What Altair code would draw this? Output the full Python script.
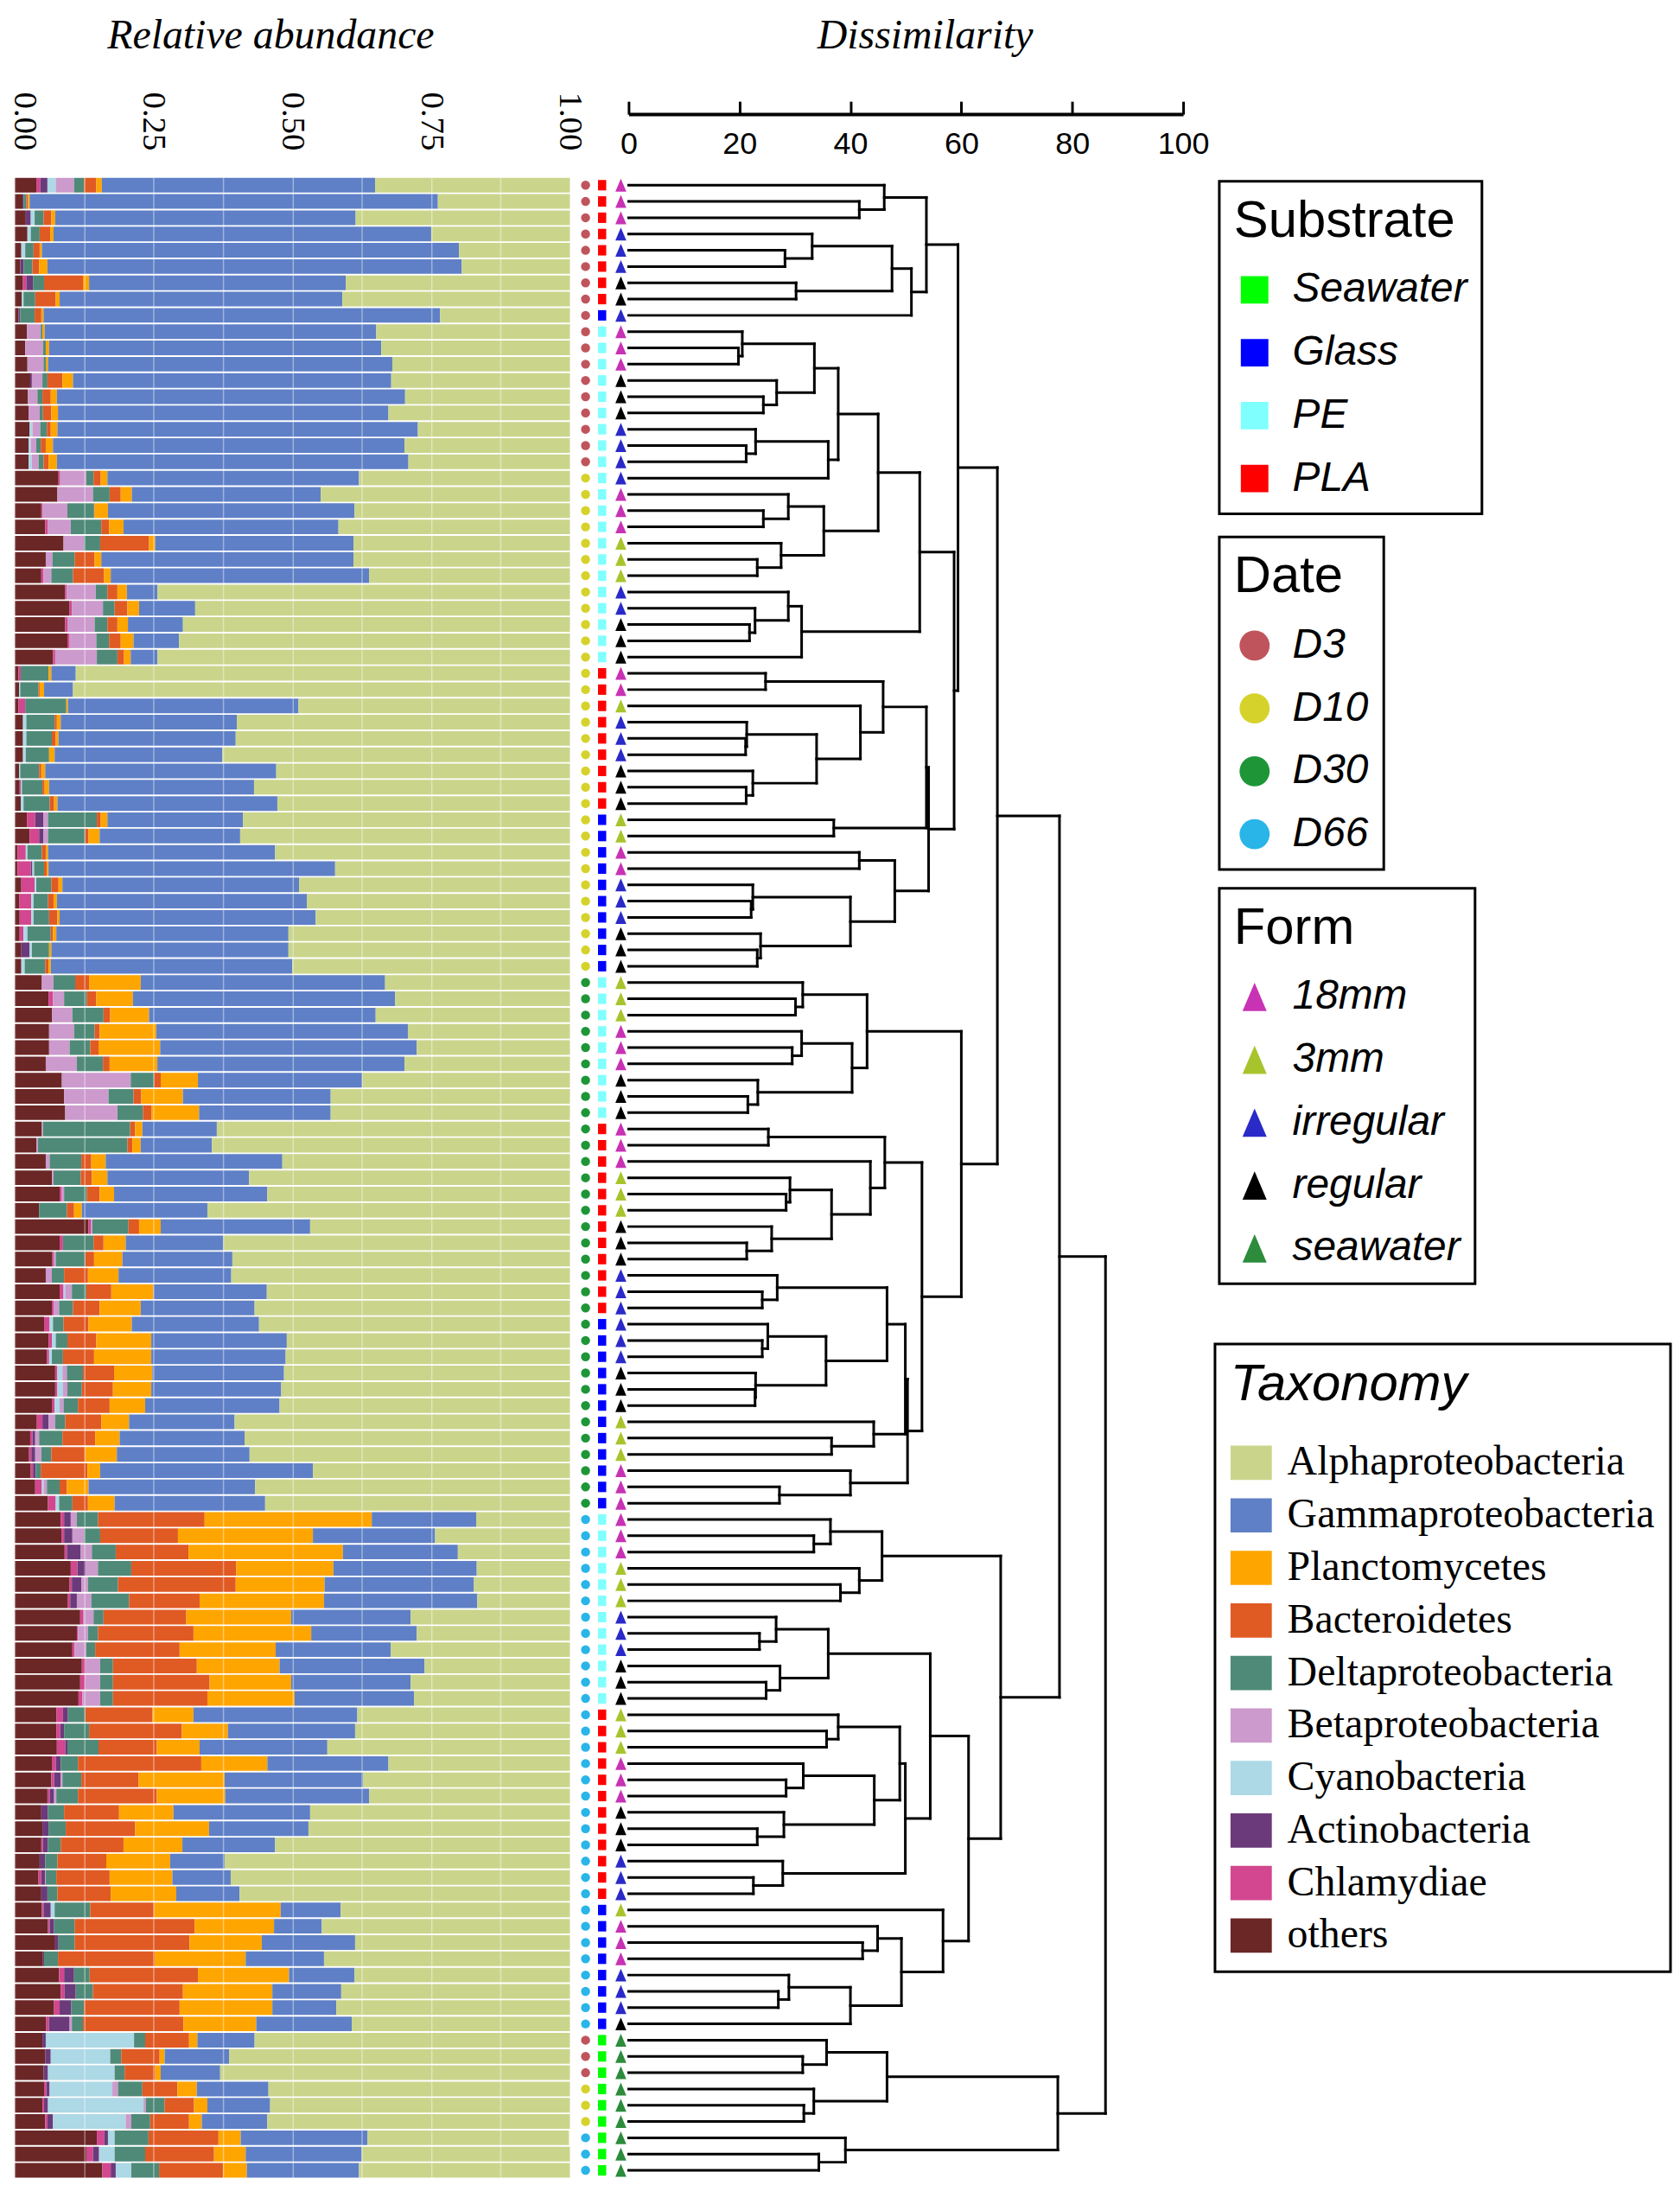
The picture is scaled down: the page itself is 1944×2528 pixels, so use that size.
import altair as alt
import pandas as pd

N_ROWS = 123
ROW = list(range(1, N_ROWS + 1))

# ---------------- sample annotations (one entry per bar, top to bottom) ----------------
DATE = """
D3 D3 D3 D3 D3 D3 D3 D3 D3
D3 D3 D3 D3 D3 D3 D3 D3 D3
D10 D10 D10 D10 D10 D10 D10 D10 D10 D10 D10 D10
D10 D10 D10 D10 D10 D10 D10 D10 D10
D10 D10 D10 D10 D10 D10 D10 D10 D10 D10
D30 D30 D30 D30 D30 D30 D30 D30 D30
D30 D30 D30 D30 D30 D30 D30 D30 D30 D30 D30 D30
D30 D30 D30 D30 D30 D30 D30 D30 D30 D30 D30 D30
D66 D66 D66 D66 D66 D66 D66 D66 D66 D66 D66 D66
D66 D66 D66 D66 D66 D66 D66 D66 D66 D66 D66 D66
D66 D66 D66 D66 D66 D66 D66 D66
D3 D3 D3 D10 D10 D10 D66 D66 D66
""".split()

SUBSTRATE = """
PLA PLA PLA PLA PLA PLA PLA PLA Glass
PE PE PE PE PE PE PE PE PE
PE PE PE PE PE PE PE PE PE PE PE PE
PLA PLA PLA PLA PLA PLA PLA PLA PLA
Glass Glass Glass Glass Glass Glass Glass Glass Glass Glass
PE PE PE PE PE PE PE PE PE
PLA PLA PLA PLA PLA PLA PLA PLA PLA PLA PLA PLA
Glass Glass Glass Glass Glass Glass Glass Glass Glass Glass Glass Glass
PE PE PE PE PE PE PE PE PE PE PE PE
PLA PLA PLA PLA PLA PLA PLA PLA PLA PLA PLA PLA
Glass Glass Glass Glass Glass Glass Glass Glass
Seawater Seawater Seawater Seawater Seawater Seawater Seawater Seawater Seawater
""".split()

FORM = """
18mm 18mm 18mm irregular irregular irregular regular regular irregular
18mm 18mm 18mm regular regular regular irregular irregular irregular
irregular 18mm 18mm 18mm 3mm 3mm 3mm irregular irregular regular regular regular
18mm 18mm 3mm irregular irregular irregular regular regular regular
3mm 3mm 18mm 18mm irregular irregular irregular regular regular regular
3mm 3mm 3mm 18mm 18mm 18mm regular regular regular
18mm 18mm 18mm 3mm 3mm 3mm regular regular regular irregular irregular irregular
irregular irregular irregular regular regular regular 3mm 3mm 3mm 18mm 18mm 18mm
18mm 18mm 18mm 3mm 3mm 3mm irregular irregular irregular regular regular regular
3mm 3mm 3mm 18mm 18mm 18mm regular regular regular irregular irregular irregular
3mm 18mm 18mm 18mm irregular irregular irregular regular
seawater seawater seawater seawater seawater seawater seawater seawater seawater
""".split()

# ---------------- relative abundance (%) per taxon, one value per bar ----------------
OTHERS = [3.9, 1.4, 2.0, 2.3, 1.2, 1.0, 1.5, 1.3, 0.7, 2.2,
          1.9, 2.3, 2.8, 2.4, 2.5, 2.7, 2.5, 2.5, 7.9, 7.7,
          4.8, 5.5, 8.8, 5.6, 4.8, 9.1, 9.9, 9.1, 9.5, 6.9,
          0.7, 0.8, 0.7, 1.5, 1.5, 1.5, 0.8, 0.9, 1.1, 2.2,
          2.7, 0.5, 0.5, 1.2, 0.8, 0.9, 0.9, 1.2, 1.2, 4.9,
          6.1, 6.7, 6.2, 6.2, 5.6, 8.5, 8.9, 9.1, 4.9, 3.9,
          5.6, 6.7, 8.1, 4.4, 13.3, 8.1, 6.8, 5.6, 8.1, 6.7,
          5.3, 6.1, 5.8, 7.3, 7.3, 6.7, 4.0, 2.8, 2.6, 2.9,
          3.7, 6.0, 8.3, 8.5, 9.0, 10.1, 9.9, 9.6, 11.8, 11.2,
          10.4, 12.1, 11.8, 11.5, 7.5, 7.5, 7.6, 6.7, 6.6, 5.9,
          4.8, 5.0, 4.8, 4.5, 4.3, 4.8, 4.9, 6.0, 7.3, 5.1,
          8.0, 8.3, 7.1, 5.7, 5.0, 5.5, 5.2, 5.3, 5.0, 5.5,
          14.8, 12.9, 15.8]
CHLAMYDIAE = [0.7, 0, 0, 0, 0, 0, 0.6, 0, 0, 0,
              0, 0, 0, 0, 0, 0, 0, 0, 0.3, 0,
              0.2, 0.5, 0, 0, 0.4, 0.3, 0.4, 0.4, 0.4, 0.4,
              0.4, 0, 1.2, 0, 0, 0, 0, 0.2, 0, 1.5,
              1.7, 1.5, 2.4, 2.4, 2.2, 2.1, 0.7, 0, 0, 0,
              0.8, 0, 0, 0, 0, 0, 0, 0, 0, 0,
              0, 0, 0.4, 0, 0.4, 0.6, 0.2, 0, 0.7, 0.3,
              1.0, 0.6, 0.4, 0.4, 0.4, 0.5, 1.0, 0.4, 0.4, 0.4,
              1.2, 1.4, 0.6, 0.4, 0.4, 1.2, 0.4, 0.4, 0.6, 0.2,
              0.4, 0.7, 0.9, 0.7, 1.2, 0.7, 1.5, 0.7, 0.5, 0.4,
              0, 0, 0.3, 0, 0.5, 0, 0.3, 0.3, 0, 0,
              0.9, 0.7, 1.0, 0.5, 0, 0, 0, 0.4, 0.3, 0.4,
              1.3, 1.2, 1.5]
ACTINOBACTERIA = [1.3, 0.2, 0.9, 0, 0, 0.6, 1.2, 0, 0.3, 0,
                  0, 0, 0.3, 0, 0, 0, 0, 0, 0, 0,
                  0, 0, 0, 0, 0, 0, 0, 0, 0, 0,
                  0, 0, 0, 0, 0, 0, 0, 0, 0, 1.5,
                  0.8, 0, 0.3, 0, 0, 0, 0, 1.5, 0, 0,
                  0, 0, 0, 0, 0, 0, 0, 0, 0, 0,
                  0, 0, 0, 0, 0, 0, 0, 0, 0, 0,
                  0, 0, 0, 0, 0, 0, 1.1, 0.5, 0.7, 0.5,
                  0, 0, 1.2, 1.5, 2.5, 1.5, 1.7, 1.2, 0, 0,
                  0, 0, 0, 0, 0.9, 0.7, 0.4, 0.9, 1.2, 0.8,
                  1.2, 1.1, 0.9, 1.0, 0.7, 1.1, 1.3, 0.8, 0.6, 0.2,
                  1.8, 2.0, 2.1, 3.7, 0.6, 1.0, 0.8, 0.6, 0.7, 1.0,
                  0.7, 1.1, 0.9]
CYANOBACTERIA = [1.5, 0, 0.7, 0.6, 0.7, 0, 0, 0.3, 0, 0,
                 0, 0, 0, 0, 0, 0.5, 0.4, 0.6, 0, 0,
                 0, 0, 0, 0, 0, 0, 0, 0, 0, 0,
                 0, 0.2, 0, 0.6, 0.6, 0.5, 0.2, 0.2, 0.5, 0,
                 0, 0.3, 0.3, 0.3, 0.4, 0.4, 0.7, 0.4, 0.6, 0,
                 0, 0, 0, 0, 0, 0, 0, 0, 0, 0,
                 0, 0, 0, 0, 0, 0, 0, 0, 0.3, 0,
                 0.6, 0.7, 0.5, 0.9, 1.0, 0.9, 0, 0, 0, 0,
                 0.3, 0.6, 0, 0, 0, 0, 0, 0, 0, 0,
                 0, 0, 0, 0, 0, 0, 0, 0, 0, 0,
                 0, 0, 0, 0, 0, 0, 0.7, 0, 0, 0,
                 0, 0, 0, 0, 15.9, 10.7, 12.0, 11.3, 17.2, 13.1,
                 1.2, 2.8, 2.8]
BETAPROTEOBACTERIA = [3.3, 0, 0, 0, 0, 0, 0, 0, 0, 2.5,
                      3.2, 2.9, 1.9, 1.7, 2.0, 1.4, 1.0, 1.2, 4.7, 6.4,
                      4.5, 4.1, 3.7, 1.2, 1.4, 5.2, 5.6, 4.9, 4.8, 7.5,
                      0, 0, 0, 0, 0, 0, 0, 0, 0, 0.8,
                      0.8, 0, 0, 0, 0, 0, 0, 0, 0, 2.1,
                      2.0, 3.7, 4.5, 3.7, 5.6, 12.4, 8.0, 9.4, 0.2, 0.3,
                      0.7, 0.3, 0.4, 0, 0.3, 0, 0.4, 1.1, 1.2, 1.0,
                      0, 0, 0, 0.8, 0.8, 0.7, 1.2, 0.7, 1.1, 0,
                      0.6, 0, 1.1, 2.1, 2.0, 2.2, 1.2, 2.6, 1.8, 1.8,
                      2.1, 2.6, 2.7, 3.2, 0, 0, 0, 0, 0.3, 0.4,
                      0, 0, 0, 0, 0.1, 0, 0, 0, 0, 0,
                      0, 0, 0, 0.4, 0, 0, 0, 1.0, 0.4, 1.0,
                      0, 0, 0]
DELTAPROTEOBACTERIA = [1.8, 0.5, 1.6, 1.6, 1.5, 1.6, 2.0, 2.1, 2.6, 0.3,
                       0.5, 0.4, 0.9, 0.9, 0.6, 1.2, 0.8, 0.9, 1.3, 3.0,
                       4.8, 5.5, 2.9, 4.0, 3.9, 2.1, 2.1, 2.3, 2.3, 3.7,
                       5.0, 3.3, 7.4, 5.1, 4.6, 4.2, 3.4, 3.7, 4.7, 8.8,
                       6.7, 2.6, 1.8, 2.7, 2.6, 2.8, 4.2, 3.1, 3.7, 3.9,
                       4.1, 5.6, 3.7, 3.7, 4.7, 4.2, 4.5, 4.6, 15.7, 16.1,
                       5.7, 4.9, 4.1, 5.0, 6.5, 5.5, 5.3, 2.2, 2.6, 2.5,
                       1.9, 2.1, 2.0, 2.9, 2.6, 2.6, 1.8, 4.2, 1.8, 0.9,
                       2.3, 2.4, 3.8, 2.9, 4.3, 6.0, 5.4, 6.8, 1.8, 1.8,
                       1.6, 2.3, 2.3, 2.3, 3.1, 4.5, 5.6, 3.1, 3.4, 3.9,
                       2.9, 3.1, 2.3, 2.2, 1.9, 1.8, 6.4, 3.7, 2.9, 2.5,
                       2.8, 3.1, 2.3, 2.0, 2.0, 2.0, 1.8, 4.4, 3.4, 3.4,
                       6.1, 5.5, 5.0]
BACTEROIDETES = [2.2, 0.3, 1.4, 1.9, 1.1, 1.2, 7.0, 3.7, 1.2, 0,
                 0, 0, 2.7, 1.5, 1.5, 0.7, 0.9, 0.9, 1.3, 2.0,
                 0.1, 1.4, 8.8, 3.6, 5.6, 1.8, 2.3, 1.8, 2.1, 1.2,
                 0, 0.2, 0, 0.4, 0.7, 0, 0.4, 0.4, 0.8, 0.7,
                 0.6, 0.7, 0.5, 1.3, 1.0, 1.5, 0.4, 0, 0.6, 2.5,
                 1.7, 1.2, 0.9, 1.5, 1.2, 1.2, 1.4, 1.5, 0.9, 0.9,
                 1.8, 2.0, 2.3, 1.3, 1.9, 1.8, 1.6, 4.3, 4.5, 4.8,
                 4.5, 5.2, 5.6, 5.6, 5.6, 5.7, 6.5, 5.9, 6.1, 8.4,
                 1.3, 2.8, 19.2, 14.0, 13.1, 18.9, 21.2, 12.7, 14.9, 17.2,
                 15.2, 15.1, 17.4, 17.0, 12.1, 16.7, 10.5, 22.2, 10.3, 14.2,
                 9.9, 12.5, 11.3, 8.8, 9.6, 9.6, 11.5, 21.6, 20.7, 17.4,
                 19.5, 16.2, 17.2, 18.1, 7.9, 6.9, 5.5, 6.3, 5.3, 7.0,
                 12.6, 12.4, 11.5]
PLANCTOMYCETES = [1.0, 0.3, 0.7, 0.6, 0.4, 1.5, 1.1, 0.7, 0.4, 0.4,
                  0.6, 0.4, 1.9, 1.1, 1.2, 1.2, 1.3, 1.5, 1.2, 2.0,
                  2.4, 2.6, 1.1, 1.2, 1.2, 1.7, 2.1, 1.9, 2.3, 1.2,
                  0.5, 0.8, 0.3, 0.7, 0.5, 1.0, 0.7, 0.8, 0.6, 1.2,
                  2.0, 0.4, 0.3, 0.7, 0.6, 0.4, 0.6, 0.4, 0.4, 9.3,
                  6.6, 7.0, 10.2, 11.1, 8.6, 6.7, 7.5, 8.6, 1.3, 1.5,
                  2.6, 2.8, 2.6, 1.4, 3.9, 4.0, 5.1, 5.5, 7.6, 7.4,
                  7.8, 9.9, 10.3, 6.9, 6.9, 6.4, 5.0, 4.4, 5.7, 2.3,
                  3.9, 4.8, 30.1, 24.3, 27.8, 17.5, 16.0, 22.4, 18.9, 21.2,
                  17.3, 14.9, 14.7, 15.7, 7.4, 8.3, 7.7, 11.9, 15.5, 12.3,
                  9.8, 13.3, 10.6, 11.5, 11.3, 11.8, 22.8, 14.3, 13.0, 16.4,
                  16.4, 16.1, 16.7, 13.1, 1.5, 0.9, 1.0, 3.5, 2.4, 2.3,
                  4.0, 5.7, 4.3]
GAMMAPROTEOBACTERIA = [49.2, 73.5, 54.1, 68.0, 75.1, 74.6, 46.2, 50.9, 71.4, 59.7,
                       59.8, 62.0, 57.3, 62.7, 59.5, 64.9, 63.3, 63.3, 45.3, 34.0,
                       44.4, 38.7, 35.7, 45.4, 46.5, 5.5, 10.1, 9.9, 8.2, 4.8,
                       4.4, 5.2, 41.5, 31.7, 31.9, 30.2, 41.6, 36.9, 39.6, 24.4,
                       25.3, 40.9, 51.6, 42.6, 45.0, 46.1, 41.8, 42.7, 43.5, 44.0,
                       47.2, 40.8, 45.3, 46.2, 44.5, 29.6, 26.6, 23.7, 13.4, 12.8,
                       31.8, 25.5, 27.6, 22.6, 26.9, 17.6, 19.8, 20.3, 20.4, 20.5,
                       22.9, 24.4, 24.2, 23.7, 23.4, 24.2, 19.0, 22.5, 23.9, 38.3,
                       30.0, 27.1, 18.8, 22.0, 20.7, 25.8, 26.9, 27.6, 21.5, 19.0,
                       20.7, 26.1, 21.5, 21.5, 29.5, 22.9, 23.0, 21.8, 24.9, 25.9,
                       24.6, 17.9, 16.7, 9.8, 10.5, 11.4, 10.8, 8.6, 16.8, 14.1,
                       11.8, 12.4, 11.5, 17.2, 10.3, 11.6, 10.7, 12.9, 11.3, 11.8,
                       22.8, 20.9, 20.2]
ALPHAPROTEOBACTERIA = [35.1, 23.8, 38.6, 25.0, 20.0, 19.5, 40.4, 41.0, 23.4, 34.9,
                       34.0, 32.0, 32.2, 29.7, 32.7, 27.4, 29.8, 29.1, 38.0, 44.9,
                       38.8, 41.7, 39.0, 39.0, 36.2, 74.3, 67.5, 69.7, 70.4, 74.3,
                       89.0, 89.5, 48.9, 60.0, 60.2, 62.6, 52.9, 56.9, 52.7, 58.9,
                       59.4, 53.1, 42.3, 48.8, 47.4, 45.8, 50.7, 50.7, 50.0, 33.3,
                       31.5, 35.0, 29.2, 27.6, 29.8, 37.4, 43.1, 43.1, 63.6, 64.5,
                       51.8, 57.8, 54.5, 65.3, 46.8, 62.4, 60.8, 61.0, 54.6, 56.8,
                       56.0, 51.0, 51.2, 51.5, 52.0, 52.3, 60.4, 58.6, 57.7, 46.3,
                       56.7, 54.9, 16.9, 24.3, 20.2, 16.8, 17.3, 16.7, 28.7, 27.6,
                       32.3, 26.2, 28.7, 28.1, 38.3, 38.7, 43.7, 32.7, 37.3, 36.2,
                       46.8, 47.1, 53.1, 62.2, 61.1, 59.5, 41.3, 44.7, 38.7, 44.3,
                       38.8, 41.2, 42.1, 39.3, 56.8, 61.4, 63.0, 54.3, 54.0, 54.5,
                       36.3, 37.5, 38.0]

# stacking order left -> right, and legend order top -> bottom
TAXA = ["others", "Chlamydiae", "Actinobacteria", "Cyanobacteria", "Betaproteobacteria",
        "Deltaproteobacteria", "Bacteroidetes", "Planctomycetes", "Gammaproteobacteria",
        "Alphaproteobacteria"]
TAXA_VALUES = [OTHERS, CHLAMYDIAE, ACTINOBACTERIA, CYANOBACTERIA, BETAPROTEOBACTERIA,
               DELTAPROTEOBACTERIA, BACTEROIDETES, PLANCTOMYCETES, GAMMAPROTEOBACTERIA,
               ALPHAPROTEOBACTERIA]
TAXA_LEGEND = ["Alphaproteobacteria", "Gammaproteobacteria", "Planctomycetes", "Bacteroidetes",
               "Deltaproteobacteria", "Betaproteobacteria", "Cyanobacteria", "Actinobacteria",
               "Chlamydiae", "others"]
TAXA_COLORS = ["#CAD58B", "#5F80C7", "#FFA500", "#E05A24", "#4F8A78",
               "#CC9ACC", "#ADD8E6", "#6B3A7A", "#D2478F", "#6B2626"]

SUBSTRATES = ["Seawater", "Glass", "PE", "PLA"]
SUBSTRATE_COLORS = ["#00FF00", "#0000FF", "#80FFFF", "#FF0000"]
DATES = ["D3", "D10", "D30", "D66"]
DATE_COLORS = ["#C0545C", "#D6D22C", "#1E9638", "#29B5E8"]
FORMS = ["18mm", "3mm", "irregular", "regular", "seawater"]
FORM_COLORS = ["#C832B4", "#A8C42C", "#2A2AC8", "#000000", "#2C8C3C"]

# ---------------- dendrogram (leaf = bar row number, -k = k-th merge) ----------------
MERGES = [
    (5, 6, 28.2), (4, -1, 33.1), (7, 8, 30.2), (-2, -3, 47.5), (-4, 9, 51.0),
    (2, 3, 41.6), (1, -6, 46.1), (-7, -5, 53.7),
    (11, 12, 19.8), (10, -9, 20.5), (14, 15, 24.3), (13, -11, 26.7), (-10, -12, 33.5),
    (17, 18, 21.2), (16, -14, 22.9), (-15, 19, 36.0), (-13, -16, 37.8),
    (21, 22, 24.3), (20, -18, 28.8), (24, 25, 23.2), (23, -20, 27.5), (-19, -21, 35.2),
    (-17, -22, 45.0), (28, 29, 21.8), (27, -24, 22.8), (26, -25, 28.8), (-26, 30, 31.2),
    (-23, -27, 52.5),
    (31, 32, 24.7), (35, 36, 21.1), (34, -30, 21.3), (38, 39, 21.2), (37, -32, 22.4),
    (-31, -33, 33.9), (33, -34, 41.8), (-29, -35, 45.9), (40, 41, 37.0), (-36, -37, 53.7),
    (42, 43, 41.6), (45, 46, 22.1), (44, -40, 22.4), (48, 49, 23.2), (47, -42, 23.8),
    (-41, -43, 40.0), (-39, -44, 48.0), (-38, -45, 54.1), (-28, -46, 58.7), (-8, -47, 59.4),
    (51, 52, 30.1), (50, -49, 31.4), (54, 55, 29.5), (53, -51, 31.2), (57, 58, 21.5),
    (56, -53, 23.3), (-52, -54, 40.3), (-50, -55, 43.0),
    (59, 60, 25.2), (63, 64, 28.4), (62, -58, 29.1), (66, 67, 21.3), (65, -60, 25.8),
    (-59, -61, 36.6), (61, -62, 43.6), (-57, -63, 46.2),
    (69, 70, 24.1), (68, -65, 26.8), (72, 73, 24.1), (71, -67, 25.1), (75, 76, 22.8),
    (74, -69, 22.9), (-68, -70, 35.6), (-66, -71, 46.6), (78, 79, 36.6), (77, -73, 44.2),
    (-72, -74, 49.9), (81, 82, 27.2), (80, -76, 40.0), (-75, -77, 50.3), (-64, -78, 52.9),
    (-56, -79, 60.0), (-48, -80, 66.5),
    (84, 85, 33.4), (83, -82, 36.4), (87, 88, 38.2), (86, -84, 41.6), (-83, -85, 45.7),
    (90, 91, 23.6), (89, -87, 26.6), (93, 94, 24.8), (92, -89, 27.3), (-88, -90, 36.0),
    (96, 97, 35.7), (95, -92, 37.8), (99, 100, 28.4), (98, -94, 31.5), (102, 103, 23.2),
    (101, -96, 28.0), (-95, -97, 44.3), (-93, -98, 48.9), (105, 106, 22.5), (104, -100, 27.8),
    (-99, -101, 49.9), (-91, -102, 54.4), (109, 110, 42.2), (108, -104, 44.9), (112, 113, 27.0),
    (111, -106, 28.9), (-107, 114, 40.0), (-105, -108, 49.2), (107, -109, 56.7),
    (-103, -110, 61.3), (-86, -111, 67.1), (-81, -112, 77.7),
    (116, 117, 31.4), (115, -114, 35.7), (119, 120, 31.6), (118, -116, 33.4),
    (-115, -117, 46.6), (122, 123, 34.3), (121, -119, 39.1), (-118, -120, 77.4),
    (-113, -121, 86.0),
]

assert len(DATE) == len(SUBSTRATE) == len(FORM) == N_ROWS
for v in TAXA_VALUES:
    assert len(v) == N_ROWS

# ---------------- tables ----------------
bar_recs = []
for i, r in enumerate(ROW):
    cum = 0.0
    for t, vals in zip(TAXA, TAXA_VALUES):
        v = vals[i] / 100.0
        if v > 0:
            bar_recs.append({"row": r, "taxon": t, "start": cum, "end": cum + v,
                             "ylo": r - 0.45, "yhi": r + 0.45})
        cum += v
bars_df = pd.DataFrame(bar_recs)

meta_df = pd.DataFrame({"row": ROW, "date": DATE, "substrate": SUBSTRATE, "form": FORM})
meta_df["ylo"] = meta_df["row"] - 0.32
meta_df["yhi"] = meta_df["row"] + 0.32

pos, hgt, segs = {}, {}, []
for k, (a, b, h) in enumerate(MERGES, start=1):
    ya, ha = (a, 0.0) if a > 0 else (pos[-a], hgt[-a])
    yb, hb = (b, 0.0) if b > 0 else (pos[-b], hgt[-b])
    segs.append({"d1": ha, "d2": h, "ya": ya, "yb": ya})
    segs.append({"d1": hb, "d2": h, "ya": yb, "yb": yb})
    segs.append({"d1": h, "d2": h, "ya": ya, "yb": yb})
    pos[k] = (ya + yb) / 2.0
    hgt[k] = h
dendro_df = pd.DataFrame(segs)

# ---------------- scales / styles ----------------
PLOT_W, PLOT_H = 1926, 2324
yscale = alt.Scale(domain=[0.5, N_ROWS + 0.5], reverse=True, nice=False, zero=False)
GRID_VALS = [0, 0.125, 0.25, 0.375, 0.5, 0.625, 0.75, 0.875, 1.0]
DISS_TICKS = [0, 20, 40, 60, 80, 100]
TRI = "M0,-1L0.85,1L-0.85,1Z"
RECT_SYM = "M-1,-0.83L1,-0.83L1,0.83L-1,0.83Z"
SANS = "Liberation Sans"
SERIF = "Liberation Serif"
NB = "\u00a0"

small_legend = dict(orient="none", legendX=1399, padding=17, strokeColor="black",
                    titleFont=SANS, titleFontSize=60, titleFontWeight="normal",
                    titleColor="black", titlePadding=25, titleLimit=600,
                    labelFont=SANS, labelFontSize=48, labelFontStyle="italic",
                    labelColor="black", labelLimit=600, labelOffset=20, rowPadding=25,
                    symbolStrokeWidth=0, symbolOpacity=1)

bars = alt.Chart(bars_df).mark_rect(strokeWidth=0).encode(
    x=alt.X("start:Q",
            scale=alt.Scale(domain=[0, 1], range=[0, 645], nice=False, zero=False),
            axis=alt.Axis(orient="top", values=GRID_VALS,
                          labelExpr="(datum.value * 4) % 1 == 0 ? format(datum.value, '.2f') : ''",
                          labelAngle=90, labelAlign="right", labelBaseline="middle",
                          labelPadding=31,
                          labelOffset=alt.condition("datum.value == 0", alt.value(12), alt.value(0)),
                          labelFont=SERIF, labelFontSize=39,
                          labelColor="black", labelOverlap=False, labelFlush=False,
                          ticks=False, tickSize=0, domain=False,
                          grid=True, gridColor="white", gridOpacity=0.4, gridWidth=1.5,
                          zindex=1,
                          title="Relative abundance", titleFont=SERIF,
                          titleFontStyle="italic", titleFontWeight="normal",
                          titleFontSize=48, titleColor="black", titleX=297, titleY=-150,
                          titleAlign="center", titleBaseline="alphabetic", titleAngle=0)),
    x2="end:Q",
    y=alt.Y("ylo:Q", scale=yscale, axis=None),
    y2="yhi:Q",
    color=alt.Color("taxon:N",
                    scale=alt.Scale(domain=TAXA_LEGEND, range=TAXA_COLORS),
                    legend=alt.Legend(title="Taxonomy", orient="none", legendX=1394,
                                      legendY=1355, padding=18, strokeColor="black",
                                      titleFont=SANS, titleFontSize=60,
                                      titleFontStyle="italic", titleFontWeight="normal",
                                      titleColor="black", titlePadding=36, titleLimit=600,
                                      labelFont=SERIF, labelFontSize=48, labelColor="black",
                                      labelLimit=700, labelOffset=18, rowPadding=13,
                                      symbolType=RECT_SYM, symbolSize=2304,
                                      symbolStrokeWidth=0, symbolOpacity=1)),
)

circles = alt.Chart(meta_df).mark_point(filled=True, shape="circle", size=110,
                                        opacity=1, strokeWidth=0).encode(
    x=alt.value(663),
    y=alt.Y("row:Q", scale=yscale, axis=None),
    color=alt.Color("date:N", scale=alt.Scale(domain=DATES, range=DATE_COLORS),
                    legend=alt.Legend(title="Date" + NB * 9, legendY=418,
                                      symbolType="circle", symbolSize=1225,
                                      **small_legend)),
)

squares = alt.Chart(meta_df).mark_rect(strokeWidth=0).encode(
    x=alt.value(677.5), x2=alt.value(687),
    y=alt.Y("ylo:Q", scale=yscale, axis=None),
    y2="yhi:Q",
    color=alt.Color("substrate:N", scale=alt.Scale(domain=SUBSTRATES, range=SUBSTRATE_COLORS),
                    legend=alt.Legend(title="Substrate", legendY=5,
                                      symbolType="square", symbolSize=1024,
                                      **small_legend)),
)

triangles = alt.Chart(meta_df).mark_point(filled=True, shape=TRI, size=225,
                                          opacity=1, strokeWidth=0).encode(
    x=alt.value(704),
    y=alt.Y("row:Q", scale=yscale, axis=None),
    color=alt.Color("form:N", scale=alt.Scale(domain=FORMS, range=FORM_COLORS),
                    legend=alt.Legend(title="Form" + NB * 8, legendY=826,
                                      symbolType=TRI, symbolSize=1089,
                                      **small_legend)),
)

dendro = alt.Chart(dendro_df).mark_rule(color="black", strokeWidth=3, strokeCap="square").encode(
    x=alt.X("d1:Q",
            scale=alt.Scale(domain=[0, 100], range=[713, 1357], nice=False, zero=False),
            axis=alt.Axis(orient="top", offset=73, values=DISS_TICKS, format="d",
                          domain=True, domainColor="black", domainWidth=4,
                          ticks=True, tickColor="black", tickWidth=3, tickSize=15,
                          labelFont=SANS, labelFontSize=36, labelColor="black",
                          labelBaseline="top", labelPadding=-33, labelFlush=False,
                          labelOverlap=False, grid=False,
                          title="Dissimilarity", titleFont=SERIF, titleFontStyle="italic",
                          titleFontWeight="normal", titleFontSize=48, titleColor="black",
                          titleX=1057, titleY=-77, titleAlign="center",
                          titleBaseline="alphabetic", titleAngle=0)),
    x2="d2:Q",
    y=alt.Y("ya:Q", scale=yscale, axis=None),
    y2="yb:Q",
)

chart = alt.layer(bars, circles, squares, triangles, dendro).resolve_scale(
    x="independent", color="independent"
).resolve_axis(
    x="independent"
).properties(
    width=PLOT_W, height=PLOT_H,
    autosize=alt.AutoSizeParams(type="none"),
    padding={"left": 9, "top": 193, "right": 0, "bottom": 0},
    background="white",
).configure_view(
    stroke=None
).configure_legend(
    strokeWidth=3
)

chart.save("out.html", embed_options={"renderer": "svg", "actions": False})
